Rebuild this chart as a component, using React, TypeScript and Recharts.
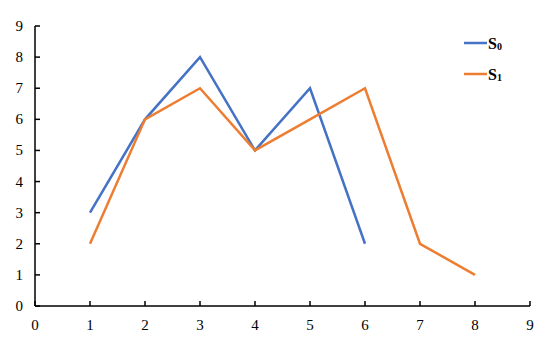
import React from 'react';
import { LineChart, Line, XAxis, YAxis, Legend } from 'recharts';

const xTicks = [0, 1, 2, 3, 4, 5, 6, 7, 8, 9];
const yTicks = [0, 1, 2, 3, 4, 5, 6, 7, 8, 9];
const s0X = [1, 2, 3, 4, 5, 6];
const s0Y = [3, 6, 8, 5, 7, 2];
const s1X = [1, 2, 3, 4, 5, 6, 7, 8];
const s1Y = [2, 6, 7, 5, 6, 7, 2, 1];

const s0 = s0X.map((x, i) => ({ x, y: s0Y[i] }));
const s1 = s1X.map((x, i) => ({ x, y: s1Y[i] }));

const BLUE = '#4472C4';
const ORANGE = '#ED7D31';
const FONT = "'Liberation Serif', 'DejaVu Serif', serif";

const XTick = (props: any) => {
  const { x, y, payload } = props;
  return (
    <g>
      <line x1={x} x2={x} y1={y} y2={y - 5} stroke="#000" strokeWidth={1.5} />
      <text x={x} y={y + 24} textAnchor="middle" style={{ fontFamily: FONT, fontSize: 15 }} fill="#000">
        {payload.value}
      </text>
    </g>
  );
};

const YTick = (props: any) => {
  const { x, y, payload } = props;
  return (
    <g>
      <line x1={x} x2={x + 5} y1={y} y2={y} stroke="#000" strokeWidth={1.5} />
      <text x={x - 12} y={y + 5} textAnchor="end" style={{ fontFamily: FONT, fontSize: 15 }} fill="#000">
        {payload.value}
      </text>
    </g>
  );
};

const LegendContent = () => {
  const items = [
    { name: 'S', sub: '0', color: BLUE },
    { name: 'S', sub: '1', color: ORANGE },
  ];
  return (
    <svg width={60} height={50} style={{ overflow: 'visible', display: 'block' }}>
      {items.map((it, i) => (
        <g key={i} transform={`translate(0, ${i * 31})`}>
          <line x1={0} x2={23} y1={8} y2={8} stroke={it.color} strokeWidth={2.5} />
          <text x={24} y={14} style={{ fontFamily: FONT, fontSize: 16, fontWeight: 'bold' }} fill="#000">
            {it.name}
            <tspan style={{ fontSize: 10 }} dy={1}>{it.sub}</tspan>
          </text>
        </g>
      ))}
    </svg>
  );
};

export default function App() {
  return (
    <div style={{ position: 'absolute', left: 0, top: 0, width: 550, height: 347, background: '#fff' }}>
      <LineChart width={550} height={347} margin={{ top: 26, right: 20, bottom: 11, left: 0 }}>
        <XAxis
          type="number"
          dataKey="x"
          domain={[0, 9]}
          ticks={xTicks}
          interval={0}
          height={30}
          tickSize={0}
          tickMargin={0}
          tickLine={false}
          axisLine={{ stroke: '#000', strokeWidth: 1.5 }}
          tick={<XTick />}
          allowDuplicatedCategory={false}
        />
        <YAxis
          type="number"
          dataKey="y"
          domain={[0, 9]}
          ticks={yTicks}
          interval={0}
          width={35}
          tickSize={0}
          tickMargin={0}
          tickLine={false}
          axisLine={{ stroke: '#000', strokeWidth: 1.5 }}
          tick={<YTick />}
        />
        <Legend
          layout="vertical"
          verticalAlign="middle"
          align="center"
          wrapperStyle={{ position: 'absolute', left: 464, top: 35, width: 60, height: 50 }}
          content={<LegendContent />}
        />
        <Line data={s0} dataKey="y" name="S0" stroke={BLUE} strokeWidth={2.5} dot={false} isAnimationActive={false} />
        <Line data={s1} dataKey="y" name="S1" stroke={ORANGE} strokeWidth={2.5} dot={false} isAnimationActive={false} />
      </LineChart>
    </div>
  );
}
